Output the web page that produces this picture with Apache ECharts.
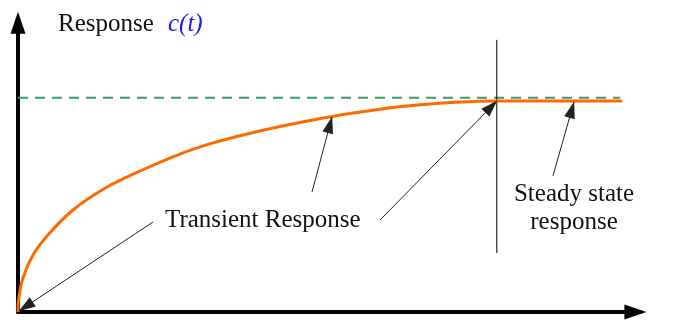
<!DOCTYPE html>
<html>
<head>
<meta charset="utf-8">
<script src="https://cdn.jsdelivr.net/npm/echarts@6/dist/echarts.min.js"></script>
<style>
  html, body { margin: 0; padding: 0; background: #fff; }
  #chart { width: 698px; height: 320px; }
</style>
</head>
<body>
<div id="chart"></div>
<script>
// response curve (time, c(t))
const curveTime = [0, 0.008, 0.079, 0.238, 0.460, 0.873, 1.413, 1.937, 2.571, 3.095, 3.635, 4.159, 4.683, 5.270, 5.825, 6.381, 6.937, 7.619, 9.587];
const curveValue = [0, 0.056, 0.159, 0.266, 0.355, 0.476, 0.583, 0.658, 0.737, 0.789, 0.831, 0.866, 0.896, 0.926, 0.950, 0.967, 0.979, 0.985, 0.985];

const finalValue = 1.0;
const finalLineEnd = 9.56;
const settleTime = 7.6;
const settleLineRange = [0.275, 1.27];

// annotation arrows: [from, to] in data units
const transientArrows = [
    [[2.143, 0.42], [0.016, 0.005]],
    [[4.667, 0.56], [4.984, 0.91]],
    [[5.746, 0.429], [7.603, 0.985]],
];
const steadyArrows = [
    [[8.492, 0.635], [8.825, 0.98]],
];

document.addEventListener("DOMContentLoaded", function () {
    const chart = echarts.init(document.getElementById("chart"));
    const serif = "'Liberation Serif'";

    const arrowLines = transientArrows.concat(steadyArrows).map(function (a) {
        return [{ coord: a[0] }, { coord: a[1] }];
    });

    chart.setOption({
        animation: false,
        grid: { left: 18, bottom: 8, top: 22.7, right: 62.6 },
        xAxis: {
            type: "value",
            min: 0,
            max: 9.8,
            axisLine: {
                show: true,
                symbol: ["none", "triangle"],
                symbolSize: [15, 22],
                lineStyle: { color: "#000", width: 4 },
            },
            axisTick: { show: false },
            axisLabel: { show: false },
            splitLine: { show: false },
        },
        yAxis: {
            type: "value",
            min: 0,
            max: 1.35,
            axisLine: {
                show: true,
                symbol: ["none", "triangle"],
                symbolSize: [15, 22],
                lineStyle: { color: "#000", width: 4 },
            },
            axisTick: { show: false },
            axisLabel: { show: false },
            splitLine: { show: false },
        },
        series: [
            {
                name: "final value",
                type: "line",
                data: [[0, finalValue], [finalLineEnd, finalValue]],
                symbol: "none",
                lineStyle: { color: "#3d9a6b", width: 2, type: [10, 7] },
                z: 2,
            },
            {
                name: "settle",
                type: "line",
                data: [[settleTime, settleLineRange[0]], [settleTime, settleLineRange[1]]],
                symbol: "none",
                lineStyle: { color: "#000", width: 1 },
                z: 3,
            },
            {
                name: "c(t)",
                type: "line",
                data: curveTime.map(function (t, i) { return [t, curveValue[i]]; }),
                symbol: "none",
                smooth: 0.3,
                lineStyle: { color: "#ff6a00", width: 3 },
                z: 4,
                markLine: {
                    silent: true,
                    symbol: ["none", "triangle"],
                    symbolSize: [11, 17],
                    symbolOffset: [[0, 0], [0, 8]],
                    label: { show: false },
                    lineStyle: { color: "#222", width: 1, type: "solid" },
                    emphasis: { disabled: true },
                    data: arrowLines,
                },
            },
        ],
        graphic: [
            { type: "text", x: 58, y: 24.5, style: { text: "Response", font: "25px " + serif, fill: "#111", verticalAlign: "middle" } },
            { type: "text", x: 168, y: 24.5, style: { text: "c(t)", font: "italic 25px " + serif, fill: "#1a1aff", verticalAlign: "middle" } },
            { type: "text", x: 165, y: 220.5, style: { text: "Transient Response", font: "25px " + serif, fill: "#111", verticalAlign: "middle" } },
            { type: "text", x: 574, y: 194, style: { text: "Steady state", font: "25px " + serif, fill: "#111", align: "center", verticalAlign: "middle" } },
            { type: "text", x: 574, y: 222.5, style: { text: "response", font: "25px " + serif, fill: "#111", align: "center", verticalAlign: "middle" } },
        ],
    });

    window.addEventListener("resize", function () {
        chart.resize();
    });
});
</script>
</body>
</html>
